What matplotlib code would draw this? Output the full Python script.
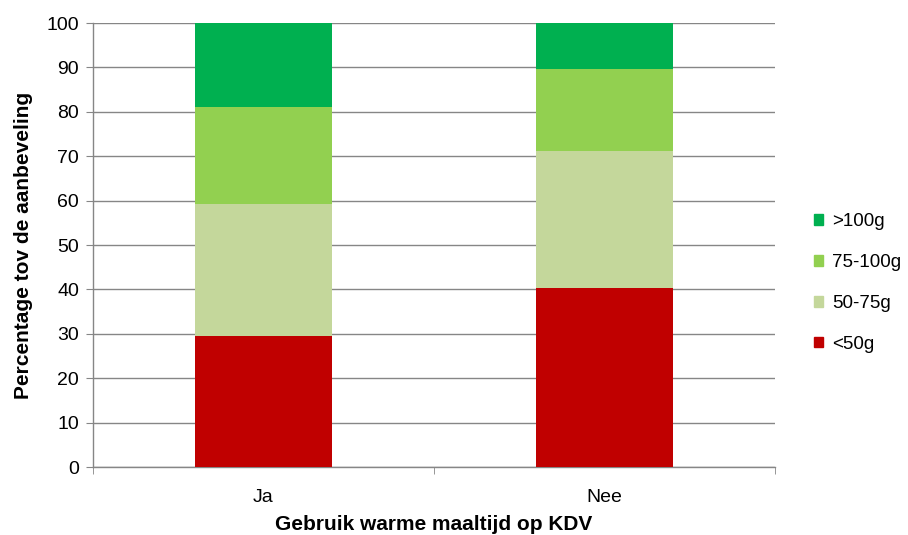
import matplotlib.pyplot as plt
from matplotlib.patches import Patch

plt.rcParams['font.family'] = ['Liberation Sans', 'DejaVu Sans']

# data
categories = ["Ja", "Nee"]
series_names = ["<50g", "50-75g", "75-100g", ">100g"]
under_50 = [29.4, 40.4]
g50_75 = [29.9, 30.8]
g75_100 = [21.8, 18.5]
over_100 = [18.9, 10.3]
colors = ["#C00000", "#C4D79B", "#92D050", "#00B050"]
yticks = list(range(0, 101, 10))

fig = plt.figure(figsize=(9.08, 5.35), dpi=100)
ax = fig.add_axes([93 / 908, 1 - 467 / 535, 682 / 908, 444 / 535])

x = list(range(len(categories)))
bottom = [0.0] * len(categories)
for vals, col, name in zip([under_50, g50_75, g75_100, over_100], colors, series_names):
    ax.bar(x, vals, width=0.4, bottom=bottom, color=col, label=name, zorder=3)
    bottom = [b + v for b, v in zip(bottom, vals)]

ax.set_xlim(-0.5, 1.5)
ax.set_ylim(0, 100)
ax.set_yticks(yticks)
ax.set_xticks(x)
ax.set_xticklabels(categories)
ax.set_xticks([-0.5, 0.5, 1.5], minor=True)
ax.tick_params(axis='x', which='major', length=0, pad=16, labelsize=14)
ax.tick_params(axis='x', which='minor', length=5, color='#868686', direction='out')
ax.tick_params(axis='y', length=5, color='#868686', labelsize=14, pad=5)

ax.grid(axis='y', color='#868686', linewidth=1, zorder=0)
for s in ['top', 'right']:
    ax.spines[s].set_visible(False)
for s in ['left', 'bottom']:
    ax.spines[s].set_color('#868686')
    ax.spines[s].set_linewidth(1)

ax.set_xlabel("Gebruik warme maaltijd op KDV", fontsize=15, fontweight='bold', labelpad=6)
ax.set_ylabel("Percentage tov de aanbeveling", fontsize=15, fontweight='bold', labelpad=10)

handles = [Patch(color=c, label=n) for c, n in zip(colors, series_names)][::-1]
fig.legend(handles=handles, loc='center left', bbox_to_anchor=(814 / 908, 1 - 283 / 535),
           frameon=False, fontsize=13.5, handlelength=0.5, handleheight=0.5,
           handletextpad=0.45, labelspacing=1.27, borderpad=0, borderaxespad=0)

plt.savefig("out.png", dpi=100)
